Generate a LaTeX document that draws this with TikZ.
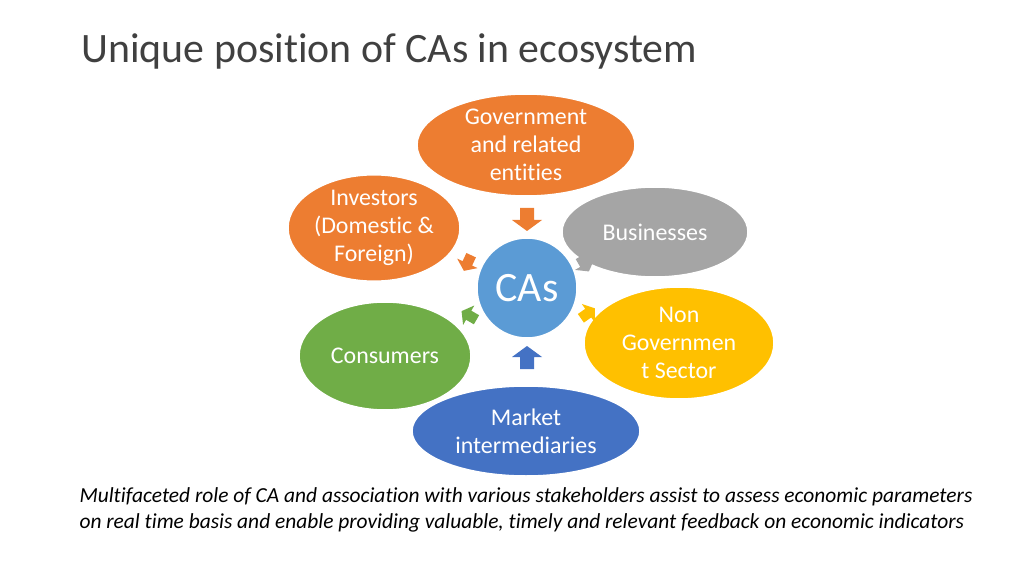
\documentclass[tikz,border=0pt]{standalone}
\usepackage{fontspec}
\setmainfont{Carlito}[Ligatures=NoCommon]
\usetikzlibrary{shapes.geometric}
\definecolor{orng}{HTML}{ED7D31}
\definecolor{grey}{HTML}{A5A5A5}
\definecolor{gold}{HTML}{FFC000}
\definecolor{grn}{HTML}{70AD47}
\definecolor{blu}{HTML}{4472C4}
\definecolor{lblu}{HTML}{5B9BD5}
\definecolor{titlegrey}{HTML}{404040}
\begin{document}
\begin{tikzpicture}
      [
        x=1bp, y=-1bp,
        party/.style={ellipse, draw=white, line width=1.5bp, text=white, align=center,
          font=\fontsize{24}{28}\selectfont, inner sep=0pt},
        push/.pic={\fill [#1] (-10,-7) -- (2,-7) -- (2,-15) -- (13,0) -- (2,15) -- (2,7) -- (-10,7) -- cycle;}
      ]
      \useasboundingbox (0,0) rectangle (1024,576);
      % title
      \node [anchor=base west, text=titlegrey, font=\fontsize{42}{46}\selectfont] (title) at (78,63) {Unique position of CAs in ecosystem};
      % stakeholders
      \node [party, fill=orng, minimum width=218bp, minimum height=102bp] (gov) at (526,145) {Government\\and related\\entities};
      \node [party, fill=orng, minimum width=172bp, minimum height=96bp] (inv) at (374,228) {Investors\\(Domestic \&\\Foreign)};
      \node [party, fill=grey, minimum width=186bp, minimum height=90bp] (bus) at (655,232) {Businesses};
      \node [party, fill=gold, minimum width=190bp, minimum height=112bp] (ngo) at (679,343) {Non\\Governmen\\t Sector};
      \node [party, fill=grn, minimum width=172bp, minimum height=108bp] (con) at (385,356) {Consumers};
      \node [party, fill=blu, minimum width=228bp, minimum height=90bp] (mkt) at (526,431) {Market\\intermediaries};
      % centre
      \node [circle, fill=lblu, draw=white, line width=1.5bp, minimum size=100bp, text=white,
        font=\fontsize{42}{46}\selectfont] (ca) at (527,288) {CAs};
      % arrows
      \pic [rotate=-90] at (527,218) {push=orng};
      \pic [rotate=90] at (527,359) {push=blu};
      \pic [rotate=-115, scale=0.75] at (468,262) {push=orng};
      \pic [rotate=150, scale=0.75] at (470,316) {push=grn};
      \pic [rotate=-60, scale=0.75] at (584,263) {push=grey};
      \pic [rotate=35, scale=0.75] at (587,314) {push=gold};
      % caption
      \node [anchor=north west, align=left, font=\fontsize{21.5}{26}\selectfont\itshape] (note) at (76,484)
        {Multifaceted role of CA and association with various stakeholders assist to assess economic parameters\\on real time basis and enable providing valuable, timely and relevant feedback on economic indicators};
    \end{tikzpicture}
\end{document}
